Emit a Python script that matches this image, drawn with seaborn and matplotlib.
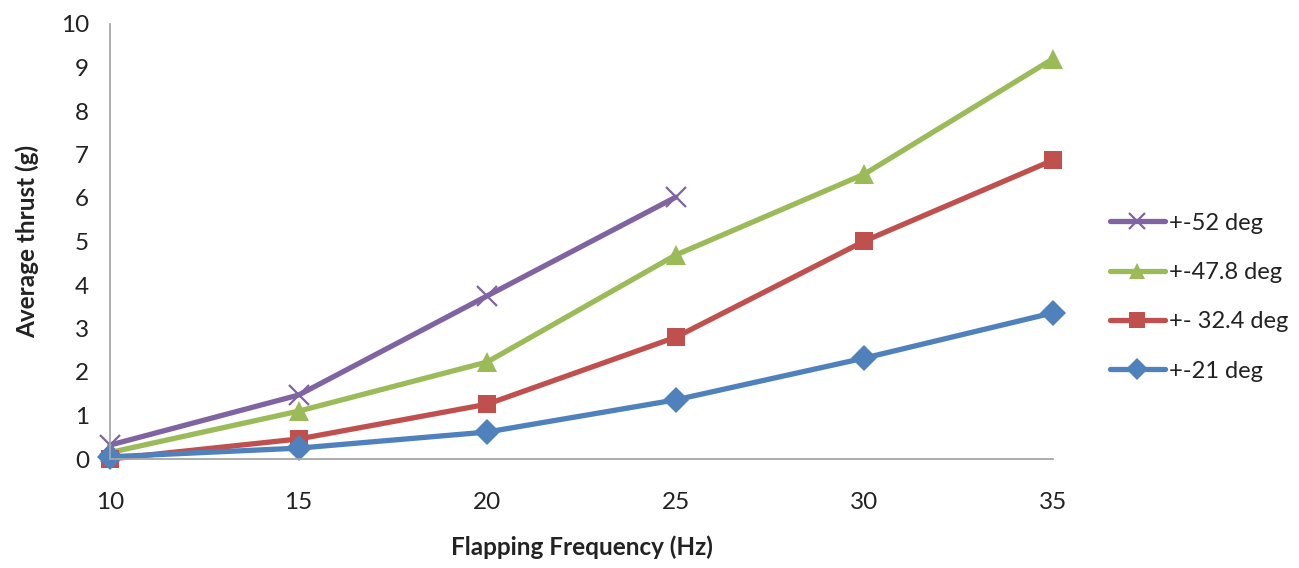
import matplotlib
matplotlib.use("Agg")
import matplotlib.pyplot as plt
import seaborn as sns
import pandas as pd

sns.set_theme(style="white")
plt.rcParams['font.family'] = ['Lato', 'DejaVu Sans']

freq = [10, 15, 20, 25, 30, 35]
series_names = ["+-52 deg", "+-47.8 deg", "+- 32.4 deg", "+-21 deg"]
thrust_52 = [0.32, 1.47, 3.75, 6.02]
thrust_47_8 = [0.15, 1.10, 2.23, 4.69, 6.55, 9.20]
thrust_32_4 = [0.0, 0.46, 1.26, 2.80, 5.01, 6.87]
thrust_21 = [0.05, 0.25, 0.62, 1.36, 2.32, 3.36]

colors = ["#8064A2", "#9BBB59", "#C0504D", "#4F81BD"]
markers = ["x", "^", "s", "D"]
msizes = [14, 14, 13, 13]
values = [thrust_52, thrust_47_8, thrust_32_4, thrust_21]

fig = plt.figure(figsize=(12.99, 5.68), dpi=100)
ax = fig.add_axes([110/1299, 1 - 459/568, (1053-110)/1299, (459-24)/568])

for name, vals, c, m, ms in zip(series_names, values, colors, markers, msizes):
    df = pd.DataFrame({"freq": freq[:len(vals)], "thrust": vals})
    sns.lineplot(data=df, x="freq", y="thrust", ax=ax, color=c, marker=m,
                 markersize=ms, markeredgewidth=1.6 if m == "x" else 0,
                 markeredgecolor=c, linewidth=3.8, label=name, clip_on=False)

ax.set_xlim(10, 35)
ax.set_ylim(0, 10)
ax.set_xticks(freq)
ax.set_yticks(range(0, 11))
ax.set_xticklabels([str(f) for f in freq])
for s in ["top", "right"]:
    ax.spines[s].set_visible(False)
for s in ["left", "bottom"]:
    ax.spines[s].set_color("#A6A6A6")
    ax.spines[s].set_linewidth(1.3)
ax.tick_params(axis="both", direction="in", length=6, width=1.3, color="#A6A6A6",
               labelsize=17.5, labelcolor="#222222")
ax.tick_params(axis="x", pad=24)
ax.tick_params(axis="y", pad=15)
ax.set_xlabel("Flapping Frequency (Hz)", fontsize=17.5, fontweight="bold", labelpad=16, color="#222222")
ax.set_ylabel("Average thrust (g)", fontsize=17.5, fontweight="bold", labelpad=16, color="#222222")
ax.grid(False)

handles, labels = ax.get_legend_handles_labels()
ax.legend_.remove()
fig.legend(handles, labels, loc="center left", bbox_to_anchor=(1089/1299, 1 - 297/568),
           frameon=False, fontsize=17, labelspacing=1.2, handlelength=2.3,
           handletextpad=0.2, labelcolor="#222222", markerscale=0.85)

fig.savefig("out.png", dpi=100)
